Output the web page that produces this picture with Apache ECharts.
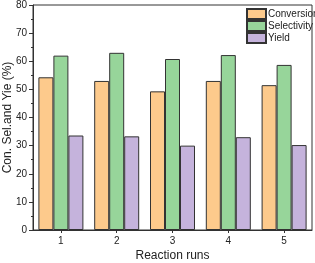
<!DOCTYPE html>
<html><head><meta charset="utf-8">
<script src="https://cdn.jsdelivr.net/npm/echarts@6/dist/echarts.min.js"></script>
<style>html,body{margin:0;padding:0;background:#fff}#c{width:315px;height:263px}</style>
</head><body><div id="c"></div>
<script>
const categories = ['1','2','3','4','5'];
const conversion = [54.3, 53.0, 49.3, 53.0, 51.5];
const selectivity = [62.0, 63.0, 60.8, 62.2, 58.7];
const yieldVals = [33.6, 33.3, 30.0, 33.0, 30.2];
const yTicks = [0,10,20,30,40,50,60,70,80];

const chart = echarts.init(document.getElementById('c'), null, {renderer:'canvas'});
const font = 'Liberation Sans, Arial, sans-serif';
const barStyle = c => ({color:c, borderColor:'#333', borderWidth:1});
chart.setOption({
  animation:false,
  textStyle:{fontFamily:font},
  grid:{left:33, right:3, top:5, bottom:33, containLabel:false, outerBoundsMode:'none'},
  legend:{
    left:241, top:3, orient:'vertical', icon:'rect', itemWidth:19, itemHeight:10, itemGap:0,
    textStyle:{fontSize:10, color:'#222', fontFamily:font, padding:[0,0,0,-3]},
    data:['Conversion','Selectivity','Yield']
  },
  xAxis:{
    type:'category', data:categories,
    name:'Reaction runs', nameLocation:'middle', nameGap:20, nameMoveOverlap:false,
    nameTextStyle:{fontSize:12, color:'#222'},
    axisLine:{lineStyle:{color:'#333', width:1}},
    axisTick:{show:true, alignWithLabel:true, length:3, lineStyle:{color:'#333'}},
    axisLabel:{fontSize:10, color:'#222', margin:6}
  },
  yAxis:{
    type:'value', min:0, max:80, interval:10,
    name:'Con. Sel.and Yie (%)', nameLocation:'middle', nameGap:19, nameMoveOverlap:false,
    nameTextStyle:{fontSize:12, color:'#222'},
    axisLine:{show:true, lineStyle:{color:'#333', width:1}},
    axisTick:{show:true, length:4, lineStyle:{color:'#333'}},
    minorTick:{show:true, splitNumber:2, length:2, lineStyle:{color:'#333'}},
    axisLabel:{fontSize:10, color:'#222', margin:6, formatter:v => yTicks.includes(v) ? String(v) : ''},
    splitLine:{show:false}
  },
  graphic:[],
  series:[
    {name:'Conversion', type:'bar', data:conversion, barWidth:15, barGap:'0%', itemStyle:barStyle('#fdca8c')},
    {name:'Selectivity', type:'bar', data:selectivity, barWidth:15, barGap:'0%', itemStyle:barStyle('#97d59a')},
    {name:'Yield', type:'bar', data:yieldVals, barWidth:15, barGap:'0%', itemStyle:barStyle('#c5b3dc')}
  ]
});
const g = chart.getModel().getComponent('grid').coordinateSystem.getRect();
chart.setOption({graphic:[{type:'rect', shape:{x:g.x, y:g.y, width:g.width, height:g.height}, style:{fill:null, stroke:'#333', lineWidth:1}, silent:true, z:10}]});
</script></body></html>
